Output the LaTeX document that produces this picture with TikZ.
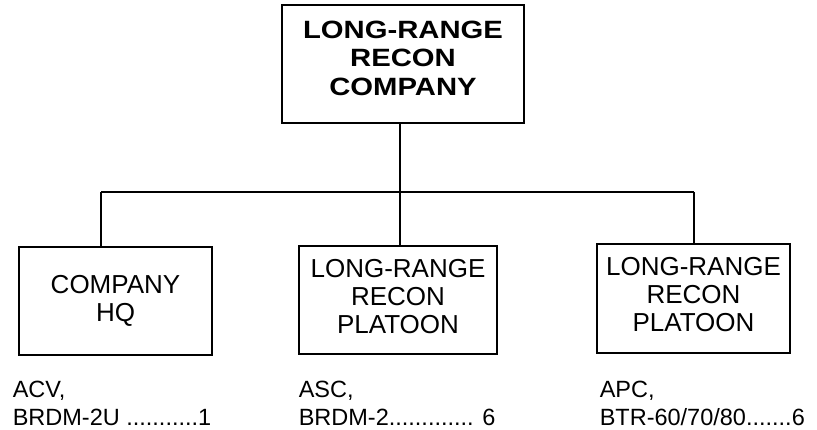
\documentclass[tikz,border=0pt]{standalone}
\usepackage{fontspec}
\setmainfont{Liberation Sans}
\newfontfamily\titlefont[FakeStretch=1.17]{Liberation Sans Bold}
\usetikzlibrary{positioning}
\tikzset{
  unit/.style={draw,line width=1.5pt,align=center,inner sep=0pt,text depth=8pt,font=\fontsize{26}{28}\selectfont},
  equip/.style={anchor=north west,align=left,inner sep=0pt,font=\fontsize{23.5}{28}\selectfont},
}

\begin{document}
\begin{tikzpicture}[x=1pt,y=1pt,line width=1.5pt]
  \useasboundingbox (0,0) rectangle (817,429);
  % company and its subunits
  \node[unit,minimum width=242pt,minimum height=118pt,text depth=12pt,font=\fontsize{25}{28.3}\selectfont\titlefont] (company) at (403,365) {LONG-RANGE\\RECON\\COMPANY};
  \node[unit,minimum width=193pt,minimum height=108pt,text depth=6pt] (hq) at (115.5,128) {COMPANY\\HQ};
  \node[unit,minimum width=198pt,minimum height=108pt] (plt1) at (398,129) {LONG-RANGE\\RECON\\PLATOON};
  \node[unit,minimum width=193pt,minimum height=109pt] (plt2) at (693.5,130.5) {LONG-RANGE\\RECON\\PLATOON};
  % connectors
  \coordinate (barL) at (101,237);
  \coordinate (barR) at (694,237);
  \draw (barL) -- (barR);
  \draw (company.south -| 400,0) -- (plt1.north -| 400,0);
  \draw (barL) -- (barL |- hq.north);
  \draw (barR) -- (barR |- plt2.north);
  % equipment
  \node[equip] (hqeq) at (12,49) {ACV,\\BRDM-2U ...........1};
  \node[equip] (plt1eq) at (298,49) {ASC,\\BRDM-2............. 6};
  \node[equip] (plt2eq) at (599,49) {APC,\\BTR-60/70/80.......6};
\end{tikzpicture}
\end{document}
